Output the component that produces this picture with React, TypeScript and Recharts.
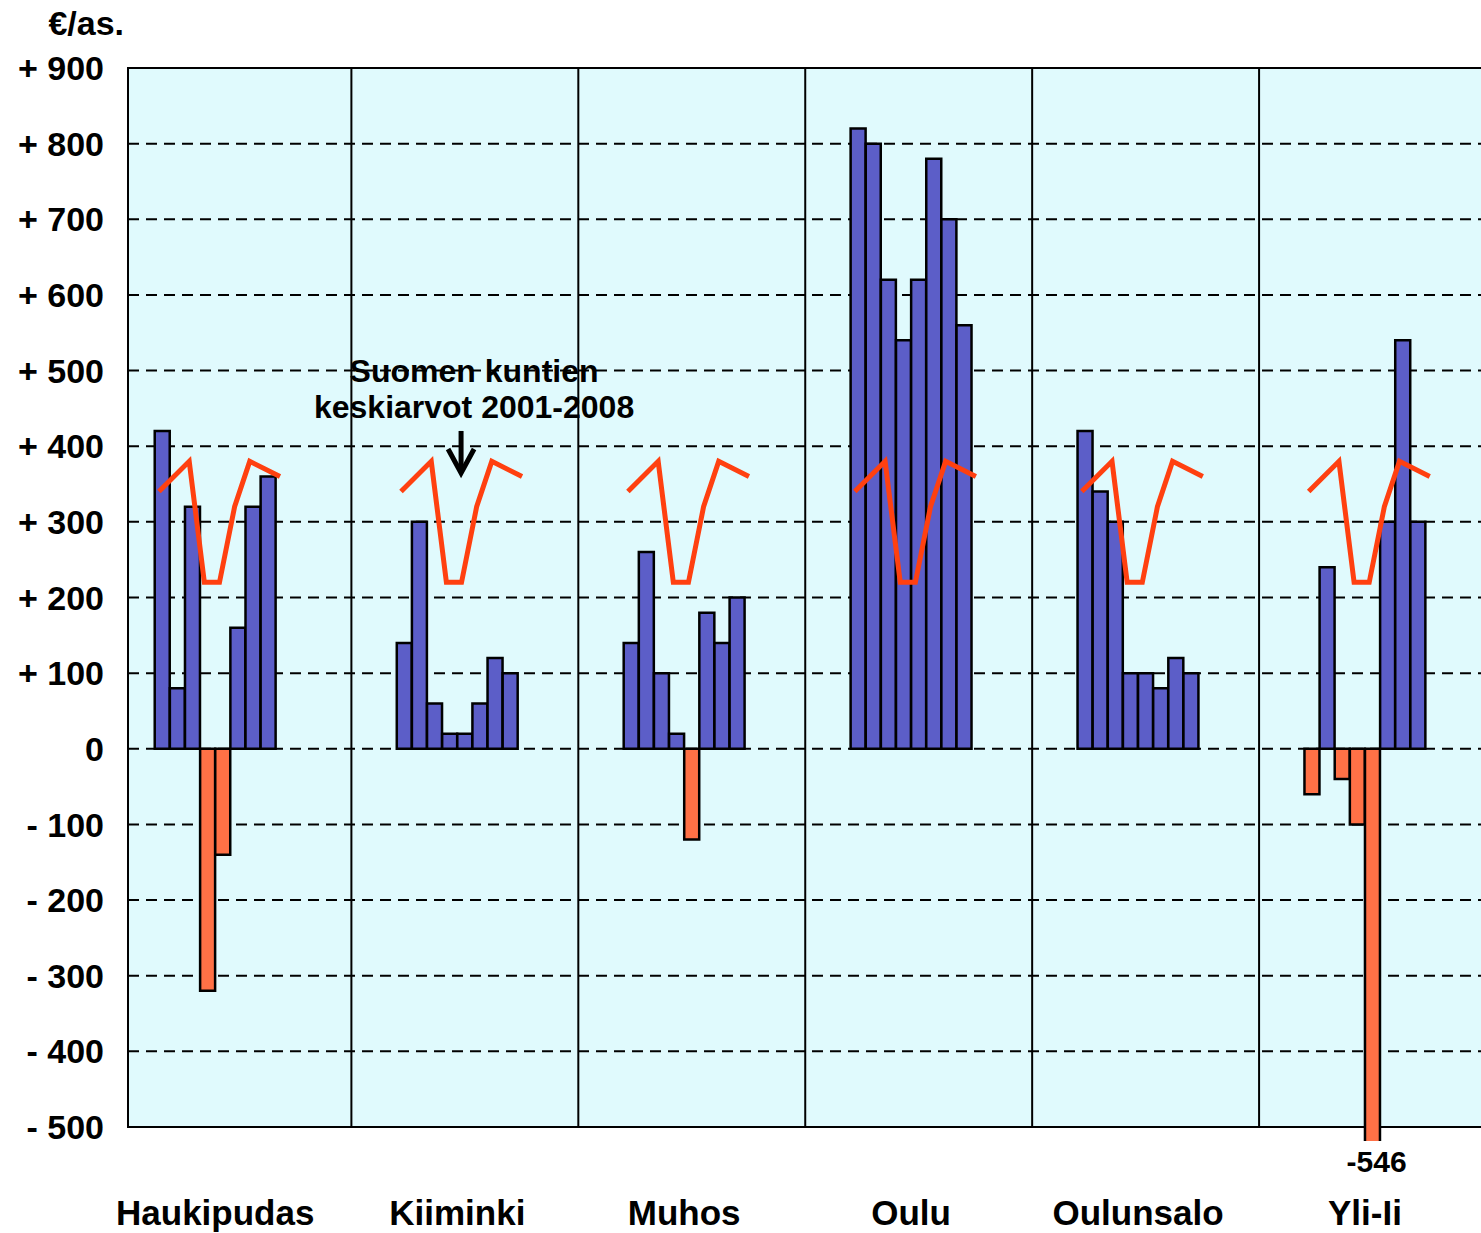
import React from "react"
import {
  ComposedChart,
  Bar,
  Cell,
  Line,
  XAxis,
  YAxis,
  CartesianGrid,
  ReferenceArea,
  ReferenceLine,
  ReferenceDot,
} from "recharts"

const municipalities = ["Haukipudas", "Kiiminki", "Muhos", "Oulu", "Oulunsalo", "Yli-Ii"]
const years = ["2001", "2002", "2003", "2004", "2005", "2006", "2007", "2008"]

// €/asukas, vuodet 2001-2008
const haukipudas = [420, 80, 320, -320, -140, 160, 320, 360]
const kiiminki = [140, 300, 60, 20, 20, 60, 120, 100]
const muhos = [140, 260, 100, 20, -120, 180, 140, 200]
const oulu = [820, 800, 620, 540, 620, 780, 700, 560]
const oulunsalo = [420, 340, 300, 100, 100, 80, 120, 100]
const yliIi = [-60, 240, -40, -100, -546, 300, 540, 300]

// Suomen kuntien keskiarvot 2001-2008 (sama viiva joka ryhmässä)
const averageLine = [340, null, 380, 220, 220, 320, 380, null, 360]

const yTicks = [-500, -400, -300, -200, -100, 0, 100, 200, 300, 400, 500, 600, 700, 800, 900]

const POS = "#5C5EC8"
const NEG = "#FF7146"
const LINE = "#FF4010"
const BG = "#E0FAFD"
const FONT = "'Liberation Sans', Arial, sans-serif"

// layout
const CHART_W = 1500
const CHART_H = 1233
const Y_AXIS_W = 128
const MARGIN_R = 14
const PLOT_W = CHART_W - Y_AXIS_W - MARGIN_R
const LEAD_GAP = 1
const GROUP_GAPS = [8, 7, 7, 7, 7]
const TRAIL_GAP = 4
const PAD_LEFT = 11.6
const LINE_SHIFT = 0.28
const Y_MIN = -518.5

const series = [haukipudas, kiiminki, muhos, oulu, oulunsalo, yliIi]

type Slot = { slot: string; value: number | null }
const slots: Slot[] = []
const clusterStart: number[] = []
const pushGap = (n: number) => {
  for (let i = 0; i < n; i++) slots.push({ slot: `gap-${slots.length}`, value: null })
}
pushGap(LEAD_GAP)
series.forEach((vals, g) => {
  clusterStart.push(slots.length)
  vals.forEach((v, i) => slots.push({ slot: `${municipalities[g]} ${years[i]}`, value: v }))
  pushGap(g < series.length - 1 ? GROUP_GAPS[g] : TRAIL_GAP)
})
const SLOT_COUNT = slots.length
const SLOT_W = (PLOT_W - PAD_LEFT) / SLOT_COUNT
const PAD_SLOTS = PAD_LEFT / SLOT_W

const lineData = clusterStart.map((s) =>
  averageLine.map((y, k) => ({ x: s + k + LINE_SHIFT, y }))
)

const labelTicks = clusterStart.map((s) => s + 4)

const overflowBars = slots
  .map((d, i) => ({ ...d, i }))
  .filter((d) => d.value != null && d.value < Y_MIN)

const yFormat = (v: number) => (v > 0 ? `+ ${v}` : v < 0 ? `- ${-v}` : "0")

const Annotation = (props: any) => {
  const { cx, cy } = props
  return (
    <g>
      <text x={cx + 13} y={cy - 93} textAnchor="middle" fontSize={32} fontWeight="bold" fill="#000" fontFamily={FONT}>
        Suomen kuntien
      </text>
      <text x={cx + 13} y={cy - 57} textAnchor="middle" fontSize={32} fontWeight="bold" fill="#000" fontFamily={FONT}>
        keskiarvot 2001-2008
      </text>
      <line x1={cx} y1={cy - 44} x2={cx} y2={cy - 4} stroke="#000" strokeWidth={5} />
      <polyline
        points={`${cx - 13},${cy - 26} ${cx},${cy - 2} ${cx + 13},${cy - 26}`}
        fill="none"
        stroke="#000"
        strokeWidth={5}
      />
    </g>
  )
}

export default function App() {
  return (
    <div
      style={{
        position: "absolute",
        left: 0,
        top: 0,
        width: 1481,
        height: CHART_H,
        overflow: "hidden",
        background: "#fff",
        fontFamily: FONT,
      }}
    >
      <div
        style={{
          position: "absolute",
          left: 0,
          top: 6,
          width: 124,
          textAlign: "right",
          fontSize: 34,
          fontWeight: "bold",
          lineHeight: "34px",
        }}
      >
        €/as.
      </div>
      <ComposedChart
        width={CHART_W}
        height={CHART_H}
        data={slots}
        margin={{ top: 68, right: MARGIN_R, bottom: 0, left: 0 }}
        barCategoryGap={0}
        barGap={0}
      >
        <CartesianGrid
          vertical={false}
          syncWithTicks
          stroke="#000"
          strokeWidth={2}
          strokeDasharray="11 7"
          fill={BG}
          fillOpacity={1}
        />
        <XAxis xAxisId="cat" dataKey="slot" type="category" hide padding={{ left: PAD_LEFT, right: 0 }} />
        <XAxis
          dataKey="x"
          type="number"
          domain={[-PAD_SLOTS, SLOT_COUNT]}
          allowDataOverflow
          ticks={labelTicks}
          interval={0}
          tickFormatter={(v: number) => municipalities[labelTicks.indexOf(v)] ?? ""}
          axisLine={false}
          tickLine={false}
          tickSize={59}
          tickMargin={0}
          height={92}
          tick={{ fontSize: 35, fontWeight: "bold", fill: "#000", fontFamily: FONT }}
        />
        <YAxis
          domain={[Y_MIN, 900]}
          allowDataOverflow
          ticks={yTicks}
          interval={0}
          width={Y_AXIS_W}
          axisLine={false}
          tickLine={false}
          tickSize={24}
          tickMargin={0}
          tickFormatter={yFormat}
          tick={{ fontSize: 34, fontWeight: "bold", fill: "#000", fontFamily: FONT }}
        />
        <ReferenceArea y1={Y_MIN} y2={-500} fill="#fff" fillOpacity={1} stroke="none" ifOverflow="visible" />
        <ReferenceArea y1={-500} y2={900} fill="none" stroke="#000" strokeWidth={2} />
        <Bar xAxisId="cat" dataKey="value" stroke="#000" strokeWidth={2.5} isAnimationActive={false}>
          {slots.map((d, i) => (
            <Cell key={i} fill={d.value != null && d.value < 0 ? NEG : POS} />
          ))}
        </Bar>
        {lineData.map((pts, g) => (
          <Line
            key={g}
            data={pts}
            dataKey="y"
            type="linear"
            stroke={LINE}
            strokeWidth={5}
            dot={false}
            activeDot={false}
            connectNulls
            isAnimationActive={false}
          />
        ))}
        {clusterStart.slice(1).map((s) => (
          <ReferenceLine
            key={s}
            segment={[
              { x: s - 3, y: -500 },
              { x: s - 3, y: 900 },
            ]}
            stroke="#000"
            strokeWidth={2}
          />
        ))}
        <ReferenceDot x={clusterStart[1] + 4.25} y={362} r={0} ifOverflow="visible" shape={Annotation} />
        {overflowBars.map((d) => (
          <ReferenceDot
            key={d.slot}
            x={d.i + 0.5}
            y={d.value as number}
            r={0}
            ifOverflow="visible"
            shape={(p: any) => (
              <text x={p.cx + 4} y={p.cy + 10} textAnchor="middle" fontSize={30} fontWeight="bold" fill="#000" fontFamily={FONT}>
                {d.value}
              </text>
            )}
          />
        ))}
      </ComposedChart>
    </div>
  )
}
